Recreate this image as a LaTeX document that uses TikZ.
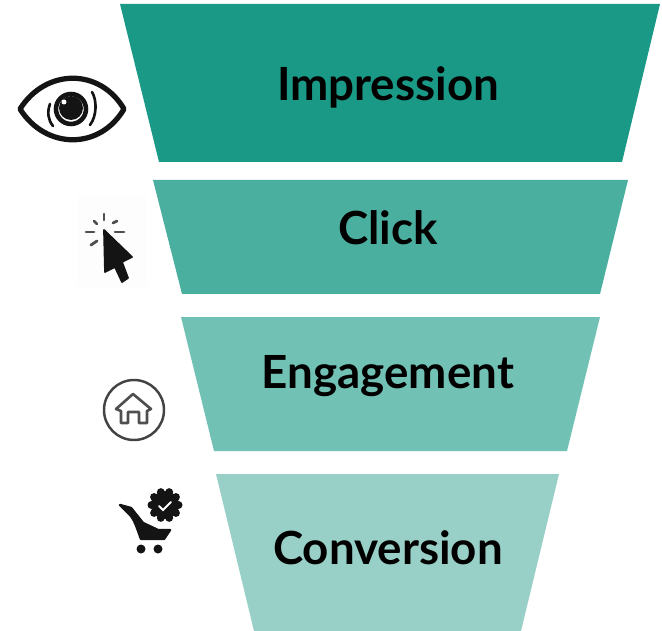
\documentclass[tikz,border=0pt]{standalone}
\usepackage{fontspec}
\setmainfont{Lato}
\definecolor{stageA}{HTML}{1A9987}
\definecolor{stageB}{HTML}{4BAFA0}
\definecolor{stageC}{HTML}{72C1B5}
\definecolor{stageD}{HTML}{98D0C7}
\definecolor{iconink}{HTML}{141414}
\definecolor{iconback}{HTML}{FDFDFD}
\begin{document}
\begin{tikzpicture}
    [
        x=0.02cm, y=-0.02cm,
        label/.style = {font=\fontsize{26}{30}\selectfont\bfseries, text=black, inner sep=0pt, anchor=base},
        ink/.style = {draw=iconink, line cap=round, line join=round},
        solid/.style = {fill=iconink, draw=iconink, line join=round},
    ]

    \useasboundingbox (0,0) rectangle (662,631);

    \fill[stageA] (120,4) -- (660,4) -- (622,162) -- (159,162) -- cycle;
    \fill[stageB] (153,180) -- (628,180) -- (600,294) -- (182,294) -- cycle;
    \fill[stageC] (181,317) -- (600,317) -- (567,451) -- (214,451) -- cycle;
    \fill[stageD] (216,474) -- (559,474) -- (521,631) -- (254,631) -- cycle;

    \node[label] (impression) at (388,101) {Impression};
    \node[label] (click)      at (388,245) {Click};
    \node[label] (engagement) at (388,388) {Engagement};
    \node[label] (conversion) at (388,564) {Conversion};

    \draw[ink, line width=3pt] (20,109) .. controls (46,68) and (100,68) .. (124,109)
                                        .. controls (100,150) and (46,150) .. (20,109) -- cycle;
    \draw[ink, line width=2.6pt] (71,109) circle (15);
    \fill[iconink] (71,108) circle (12);
    \fill[white] (64,102) circle (2.5);
    \draw[ink, line width=1.5pt] (50,104) .. controls (47,112) and (48,120) .. (53,126);
    \draw[ink, line width=1.5pt] (92,92) .. controls (97,100) and (97,116) .. (90,125);

    \fill[iconback] (77,197) rectangle (147,287);
    \draw[solid, line width=1pt] (104,230) -- (132,257) -- (122,262) -- (128,278) -- (122,282)
                                  -- (115,267) -- (105,272) -- cycle;
    \foreach \xa/\ya/\xb/\yb in {104/214/104/220, 94/221/97/224, 117/221/113/223, 86/232/94/232, 115/232/124/232, 91/245/97/241}
        \draw[draw=iconink!75, line cap=round, line width=1.6pt] (\xa,\ya) -- (\xb,\yb);

    \draw[draw=iconink!80, line width=1.4pt] (134,410) circle (30);
    \draw[draw=iconink!75, line width=1.5pt, line join=round] (116,409) -- (133,394) -- (151,409) -- (147,411) -- (147,423)
        -- (139,423) -- (139,412) -- (128,412) -- (128,423) -- (121,423) -- (121,411) -- cycle;

    \foreach \a in {0,36,...,324}
        \fill[iconink] (165,505) ++(\a:13.5) circle (4);
    \fill[iconink] (165,505) circle (14);
    \draw[white, line width=1.1pt, line cap=round] (159,506) -- (163,510) -- (171,502);
    \draw[solid, line width=1.4pt] (120,505) -- (131,508) -- (143,523) -- (158,530) -- (170,530) -- (164,539) -- (141,539)
        .. controls (137,528) and (134,518) .. (129,514) -- cycle;
    \fill[iconink] (141,549) circle (4.5);
    \fill[iconink] (158,549) circle (4.5);
\end{tikzpicture}
\end{document}
